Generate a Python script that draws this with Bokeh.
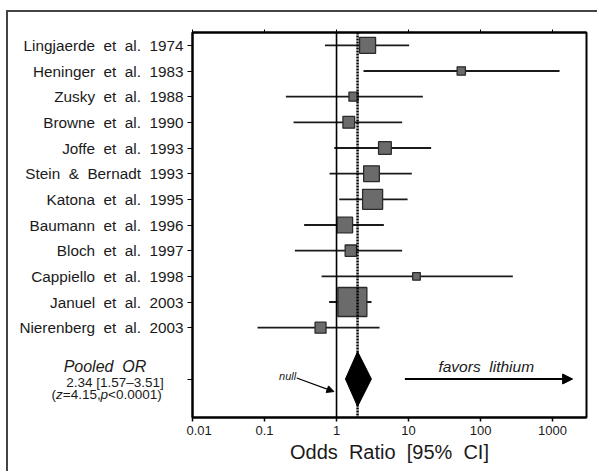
from bokeh.plotting import figure
from bokeh.layouts import row
from bokeh.models import (Range1d, FixedTicker, LogAxis, Span, Arrow, NormalHead,
                          Label, ColumnDataSource)
from bokeh.core.properties import value
from bokeh.embed import file_html
from bokeh.resources import INLINE

# ---------------- data ----------------
studies = ["Lingjaerde  et  al.  1974", "Heninger  et  al.  1983", "Zusky  et  al.  1988",
           "Browne  et  al.  1990", "Joffe  et  al.  1993", "Stein  &  Bernadt  1993",
           "Katona  et  al.  1995", "Baumann  et  al.  1996", "Bloch  et  al.  1997",
           "Cappiello  et  al.  1998", "Januel  et  al.  2003", "Nierenberg  et  al.  2003"]
odds_ratio = [2.7, 54, 1.72, 1.48, 4.7, 3.06, 3.17, 1.30, 1.58, 12.9, 1.66, 0.60]
ci_low = [0.69, 2.37, 0.198, 0.253, 0.93, 0.80, 1.09, 0.355, 0.264, 0.62, 0.79, 0.08]
ci_high = [10.2, 1250, 15.8, 8.15, 20.6, 11.1, 9.7, 4.54, 8.15, 281, 3.06, 3.96]
weights = [9.3, 2.5, 3.0, 5.0, 5.9, 9.0, 14.6, 9.0, 4.7, 2.1, 30.6, 4.4]  # % weight

pooled_or = 1.96
pooled_low = 1.33
pooled_high = 3.05
pooled_title = "Pooled  OR"
pooled_ci = "2.34 [1.57\u20133.51]"
pooled_stats = [("(", "normal"), ("z", "italic"), ("=4.15,", "normal"), ("p", "italic"),
                ("<0.0001)", "normal")]

x_ticks = [0.01, 0.1, 1, 10, 100, 1000]
x_tick_labels = ["0.01", "0.1", "1", "10", "100", "1000"]


def wide(s):
    return s.replace("  ", "\u00a0 ")


FONT = "Liberation Sans"
INK = "#1a1a1a"
n = len(studies)
rows = [-(i + 1) for i in range(n)]
pooled_row = -(n + 2)
side = [5.24 * w ** 0.5 for w in weights]
y_range = Range1d(-(n + 3.5), -0.5)

TOP, BOTTOM, H = 20, 54, 459
LEFT_W = 178

# ---------------- left panel: study names and pooled summary ----------------
lf = figure(width=LEFT_W, height=H, x_range=Range1d(0, LEFT_W), y_range=y_range,
            output_backend="svg", toolbar_location=None,
            x_axis_location=None, y_axis_location=None,
            min_border_left=0, min_border_right=0, min_border_top=TOP, min_border_bottom=BOTTOM)
lf.xgrid.visible = False
lf.ygrid.visible = False
lf.outline_line_color = None

lf.text(x=[LEFT_W - 3] * n, y=rows, text=[wide(s) for s in studies],
        text_font=value(FONT), text_font_size="15.3px", text_color=INK,
        text_align="right", text_baseline="middle")

lf.text(x=[96.5], y=[pooled_row + 0.49], text=[wide(pooled_title)], text_font=value(FONT),
        text_font_style="italic", text_font_size="16px", text_color=INK,
        text_align="center", text_baseline="middle")
lf.text(x=[106.5], y=[pooled_row - 0.12], text=[pooled_ci], text_font=value(FONT),
        text_font_size="13.5px", text_color=INK, text_align="center", text_baseline="middle")
offs = [0, 4.5, 11.25, 49.1, 56.6]
stat_src = ColumnDataSource(dict(x=[43] * len(pooled_stats), y=[pooled_row - 0.6] * len(pooled_stats),
                                 t=[t for t, _ in pooled_stats], st=[s for _, s in pooled_stats],
                                 off=offs))
lf.text(x="x", y="y", text="t", x_offset="off", text_font_style="st", source=stat_src,
        text_font=value(FONT), text_font_size="13.5px", text_color=INK,
        text_align="left", text_baseline="middle")

# ---------------- main forest plot ----------------
src = ColumnDataSource(dict(y=rows, orr=odds_ratio, lo=ci_low, hi=ci_high, side=side))

p = figure(width=589 - LEFT_W, height=H, x_axis_type="log",
           x_range=Range1d(0.01, 2960), y_range=y_range,
           output_backend="svg", toolbar_location=None,
           min_border_left=6, min_border_top=TOP, min_border_right=11, min_border_bottom=BOTTOM)
p.xgrid.visible = False
p.ygrid.visible = False
p.outline_line_color = "black"
p.outline_line_width = 2

xa = p.xaxis[0]
xa.ticker = FixedTicker(ticks=x_ticks)
xa.major_label_overrides = {t: l for t, l in zip(x_ticks, x_tick_labels)}
xa.minor_tick_line_color = None
xa.major_tick_in = 0
xa.major_tick_out = 4
xa.major_label_standoff = 4
xa.axis_line_width = 2
xa.major_tick_line_width = 1.5
xa.major_label_text_font = FONT
xa.major_label_text_font_size = "13px"
xa.major_label_text_color = INK
xa.axis_label = wide("Odds  Ratio  [95%  CI]")
xa.axis_label_text_font = FONT
xa.axis_label_text_font_style = "normal"
xa.axis_label_text_font_size = "20px"
xa.axis_label_text_color = INK
xa.axis_label_standoff = 3

ta = LogAxis(ticker=FixedTicker(ticks=x_ticks),
             major_label_overrides={t: "" for t in x_ticks})
ta.minor_tick_line_color = None
ta.major_tick_in = 0
ta.major_tick_out = 3
ta.axis_line_width = 2
ta.major_label_text_font_size = "1px"
ta.major_label_standoff = 0
p.add_layout(ta, "above")

ya = p.yaxis[0]
y_ticks = rows + [pooled_row]
ya.ticker = FixedTicker(ticks=y_ticks)
ya.major_label_overrides = {t: "" for t in y_ticks}
ya.major_label_text_font_size = "1px"
ya.major_label_standoff = 0
ya.minor_tick_line_color = None
ya.major_tick_in = 0
ya.major_tick_out = 5
ya.axis_line_width = 2
ya.major_tick_line_width = 1.2

p.add_layout(Span(location=1, dimension="height", line_color="black", line_width=1.6))
p.add_layout(Span(location=pooled_or, dimension="height", line_color="black",
                  line_width=2.5, line_dash="2 1"))

p.segment(x0="lo", x1="hi", y0="y", y1="y", source=src, line_color=INK, line_width=1.8)
p.rect(x="orr", y="y", width="side", height="side", width_units="screen",
       height_units="screen", source=src, fill_color="#6b6b6b",
       line_color="#2a2a2a", line_width=1.3)

h = 1.07
p.patch(x=[pooled_low, pooled_or, pooled_high, pooled_or],
        y=[pooled_row, pooled_row + h, pooled_row, pooled_row - h],
        fill_color="black", line_color="black", line_width=1)

p.add_layout(Arrow(end=NormalHead(size=10, fill_color="black", line_color="black"),
                   x_start=8.9, y_start=pooled_row, x_end=1900, y_end=pooled_row,
                   line_color="black", line_width=2))
p.add_layout(Label(x=120, y=pooled_row + 0.5, text=wide("favors  lithium"),
                   text_font=FONT, text_font_style="italic", text_font_size="15.5px",
                   text_align="center", text_baseline="middle", text_color=INK))

p.add_layout(Arrow(end=NormalHead(size=7, fill_color="black", line_color="black"),
                   x_start=0.28, y_start=pooled_row + 0.04, x_end=0.92, y_end=pooled_row - 0.49,
                   line_color="black", line_width=1.2))
p.add_layout(Label(x=0.275, y=pooled_row + 0.12, text="null", text_font=FONT,
                   text_font_style="italic", text_font_size="11px",
                   text_align="right", text_baseline="middle", text_color=INK))

layout = row(lf, p, spacing=0)
layout.styles = {"margin-left": "6px", "margin-top": "10px",
                 "border-left": "2px solid #444", "border-top": "2px solid #444"}

open("out.html", "w").write(file_html(layout, INLINE))
